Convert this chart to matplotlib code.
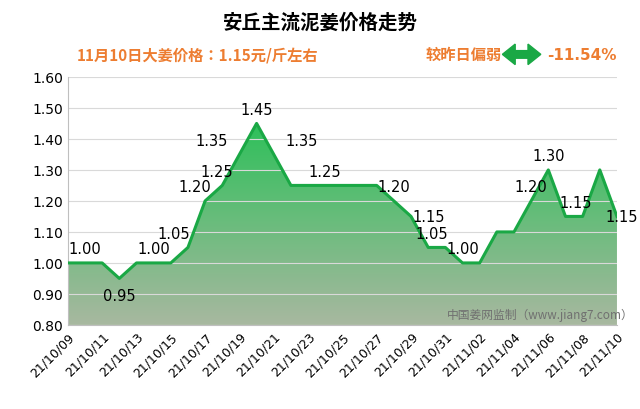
import matplotlib
matplotlib.use("Agg")
import matplotlib.pyplot as plt
import numpy as np
from matplotlib.patches import Polygon, FancyArrow
from matplotlib import font_manager as fm

cjk_files = [f for f in fm.findSystemFonts() if "CJK" in f or "cjk" in f.lower()]
for f in cjk_files:
    try:
        fm.fontManager.addfont(f)
    except Exception:
        pass
names = set(fe.name for fe in fm.fontManager.ttflist)
cjk = next((n for n in ["Noto Sans CJK SC", "Noto Sans CJK JP", "Noto Sans SC", "Noto Sans CJK"] if n in names),
           next((n for n in names if "CJK" in n), "DejaVu Sans"))
plt.rcParams["font.family"] = ["DejaVu Sans", cjk]

dates = ["21/10/%02d" % d for d in range(9, 32)] + ["21/11/%02d" % d for d in range(1, 11)]
prices = [1.00, 1.00, 1.00, 0.95, 1.00, 1.00, 1.00, 1.05, 1.20, 1.25, 1.35, 1.45, 1.35, 1.25,
          1.25, 1.25, 1.25, 1.25, 1.25, 1.20, 1.15, 1.05, 1.05, 1.00, 1.00, 1.10, 1.10, 1.20,
          1.30, 1.15, 1.15, 1.30, 1.15]
label_idx = [1, 3, 5, 7, 8, 9, 10, 11, 12, 15, 19, 20, 21, 23, 27, 28, 30, 32]
dx = {10: -1.6, 12: 1.6, 32: 0.3, 30: -0.4, 8: -0.6, 9: -0.3, 7: -0.8, 20: 1.0, 21: 0.2}
yticks = [0.80, 0.90, 1.00, 1.10, 1.20, 1.30, 1.40, 1.50, 1.60]

fig = plt.figure(figsize=(6.4, 4.1), dpi=100)
ax = fig.add_axes([0.106, 0.205, 0.858, 0.605])
x = np.arange(len(prices))
ax.set_xlim(0, len(prices) - 1)
ax.set_ylim(0.8, 1.6)

grad = np.linspace(0, 1, 256).reshape(-1, 1)
top = np.array([0x2e, 0xc0, 0x5a]) / 255
bot = np.array([0xa8, 0xb8, 0xa0]) / 255
img = top * (1 - grad[..., None]) + bot * grad[..., None]
im = ax.imshow(img, extent=[0, len(prices) - 1, 0.8, 1.45], aspect="auto", origin="upper", zorder=1)
poly = Polygon(list(zip(x, prices)) + [(x[-1], 0.8), (0, 0.8)], closed=True, transform=ax.transData,
               facecolor="none", edgecolor="none")
ax.add_patch(poly)
im.set_clip_path(poly)
ax.plot(x, prices, color="#1aa845", lw=2.2, zorder=3)

for i in label_idx:
    dy = -0.055 if i == 3 else 0.045
    if i in (20, 32):
        dy = 0.0
    ax.text(x[i] + dx.get(i, 0), prices[i] + dy, "%.2f" % prices[i], ha="center", va="center",
            fontsize=10.5, zorder=4)

ax.set_yticks(yticks)
ax.set_yticklabels(["%.2f" % v for v in yticks], fontsize=10)
ax.set_xticks(x[::2])
ax.set_xticklabels(dates[::2], rotation=45, ha="right", rotation_mode="anchor", fontsize=9)
ax.grid(axis="y", color="#d9d9d9", lw=0.8, zorder=0)
for s in ["top", "right"]:
    ax.spines[s].set_visible(False)
ax.spines["left"].set_color("#bfbfbf")
ax.spines["bottom"].set_color("#bfbfbf")
ax.tick_params(length=0)

ax.text(0.86, 0.03, "中国姜网监制（www.jiang7.com）", transform=ax.transAxes, ha="center",
        fontsize=8.5, color="#707070", zorder=5, fontfamily=cjk)

fig.text(0.5, 0.945, "安丘主流泥姜价格走势", ha="center", va="center", fontsize=14, fontweight="bold",
         fontfamily=cjk)
fig.text(0.12, 0.865, "11月10日大姜价格：1.15元/斤左右", ha="left", va="center", fontsize=11,
         color="#ed7d31", fontweight="bold", fontfamily=cjk)
fig.text(0.665, 0.865, "较昨日偏弱", ha="left", va="center", fontsize=11, color="#ed7d31",
         fontweight="bold", fontfamily=cjk)
fig.text(0.855, 0.865, "-11.54%", ha="left", va="center", fontsize=11, color="#ed7d31", fontweight="bold")
fig.patches.append(FancyArrow(0.805, 0.865, 0.04, 0, width=0.018, head_width=0.05, head_length=0.02,
                              length_includes_head=True, color="#1aa845", transform=fig.transFigure))
fig.patches.append(FancyArrow(0.825, 0.865, -0.04, 0, width=0.018, head_width=0.05, head_length=0.02,
                              length_includes_head=True, color="#1aa845", transform=fig.transFigure))

fig.savefig("out.png", dpi=100)
